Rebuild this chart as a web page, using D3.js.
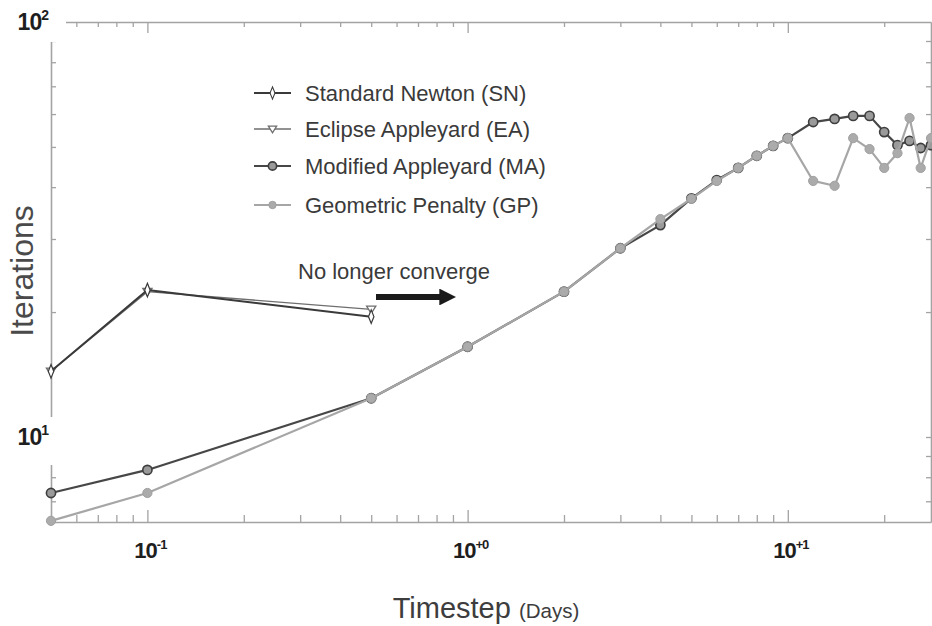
<!DOCTYPE html>
<html>
<head>
<meta charset="utf-8">
<script src="https://cdn.jsdelivr.net/npm/d3@7/dist/d3.min.js"></script>
<style>
  html, body { margin: 0; padding: 0; background: #fff; }
  svg { display: block; font-family: "Liberation Sans", Arial, sans-serif; }
</style>
</head>
<body>
<svg id="chart" width="932" height="626"></svg>
<script>
// Timestep (days) and average Newton iterations for each nonlinear solver
const timestepsSN = [0.05, 0.1, 0.5];
const itersSN     = [14.4, 22.6, 19.5];

const timestepsEA = [0.05, 0.1, 0.5];
const itersEA     = [14.4, 22.4, 20.3];

const timestepsMA = [0.05, 0.1, 0.5, 1, 2, 3, 4, 5, 6, 7, 8, 9, 10, 12, 14, 16, 18, 20, 22, 24, 26, 28];
const itersMA     = [7.33, 8.33, 12.4, 16.5, 22.4, 28.5, 32.4, 37.6, 41.6, 44.5, 47.6, 50.3, 52.5, 57.4, 58.4, 59.4, 59.4, 54.3, 50.5, 51.7, 49.7, 50.5];

const timestepsGP = [0.05, 0.1, 0.5, 1, 2, 3, 4, 5, 6, 7, 8, 9, 10, 12, 14, 16, 18, 20, 22, 24, 26, 28];
const itersGP     = [6.28, 7.33, 12.4, 16.5, 22.4, 28.5, 33.5, 37.5, 41.4, 44.5, 47.6, 50.3, 52.5, 41.4, 40.3, 52.5, 49.4, 44.5, 48.3, 58.7, 44.5, 52.5];

const seriesNames = ["Standard Newton (SN)", "Eclipse Appleyard (EA)", "Modified Appleyard (MA)", "Geometric Penalty (GP)"];

const xMajorTicks = [0.1, 1, 10];
const xMajorExponents = ["-1", "+0", "+1"];
const yMajorTicks = [10, 100];
const yMajorExponents = ["1", "2"];

const xDomain = [0.05, 28];
const yDomain = [6.24, 100];

const annotationText = "No longer converge";
const xTitle = "Timestep";
const xTitleUnit = "(Days)";
const yTitle = "Iterations";

// ---- layout ----
const svg = d3.select("#chart");
const plotLeft = 51, plotRight = 931, plotTop = 22, plotBottom = 522;

const x = d3.scaleLog().domain(xDomain).range([plotLeft, plotRight]);
const y = d3.scaleLog().domain(yDomain).range([plotBottom, plotTop]);

const axisColor = "#a3a3a3";

// ---- frame and ticks ----
const frame = svg.append("g");
const xTicks = x.ticks().filter(t => t > xDomain[0] * 1.001 && t < xDomain[1]);
const yTicks = y.ticks().filter(t => t > yDomain[0] && t < yDomain[1] * 0.999);
const isMajor = v => Math.abs(Math.log10(v) - Math.round(Math.log10(v))) < 1e-9;

frame.append("g")
  .attr("transform", `translate(0,${plotBottom})`)
  .call(d3.axisBottom(x).tickValues(xTicks).tickFormat("").tickSizeOuter(0)
    .tickSizeInner(-7))
  .call(g => g.selectAll(".tick line").filter(d => isMajor(d)).attr("y2", -12));
frame.append("g")
  .attr("transform", `translate(0,${plotTop})`)
  .call(d3.axisTop(x).tickValues(xTicks).tickFormat("").tickSizeOuter(0)
    .tickSizeInner(-5))
  .call(g => g.selectAll(".tick line").filter(d => isMajor(d)).attr("y2", 11));
frame.append("g")
  .attr("transform", `translate(${plotLeft},0)`)
  .call(d3.axisLeft(y).tickValues(yTicks).tickFormat("").tickSizeOuter(0)
    .tickSizeInner(-5));
frame.append("g")
  .attr("transform", `translate(${plotRight},0)`)
  .call(d3.axisRight(y).tickValues(yTicks).tickFormat("").tickSizeOuter(0)
    .tickSizeInner(-5));
frame.selectAll("path.domain").attr("stroke", axisColor).attr("stroke-width", 1.6);
frame.selectAll(".tick line").attr("stroke", axisColor).attr("stroke-width", 1.3);

// ---- tick labels (with white backing boxes over the frame) ----
const tickFont = 22, supFont = 13;
yMajorTicks.forEach((v, i) => {
  const cy = y(v);
  svg.append("rect")
    .attr("x", 6).attr("y", cy - (i === 1 ? 18 : 20))
    .attr("width", i === 1 ? 60 : 50).attr("height", i === 1 ? 38 : 48)
    .attr("fill", "#fff");
  const t = svg.append("text")
    .attr("x", 48).attr("y", cy + 8)
    .attr("text-anchor", "end")
    .attr("font-weight", "bold").attr("font-size", 23).attr("fill", "#1e1e1e")
    .attr("letter-spacing", -1);
  t.append("tspan").text("10");
  t.append("tspan").attr("font-size", 14).attr("dy", -10).text(yMajorExponents[i]);
});

xMajorTicks.forEach((v, i) => {
  const t = svg.append("text")
    .attr("x", x(v) + 3).attr("y", plotBottom + 36)
    .attr("text-anchor", "middle")
    .attr("font-weight", "bold").attr("font-size", tickFont).attr("fill", "#1e1e1e")
    .attr("letter-spacing", -1);
  t.append("tspan").text("10");
  t.append("tspan").attr("font-size", supFont).attr("dy", -9).text(xMajorExponents[i]);
});

// ---- axis titles ----
const xt = svg.append("text")
  .attr("x", 486).attr("y", 618)
  .attr("text-anchor", "middle").attr("fill", "#3d3d3d");
xt.append("tspan").attr("font-size", 29).text(xTitle + " ");
xt.append("tspan").attr("font-size", 20.5).text(xTitleUnit);

svg.append("text")
  .attr("transform", `translate(33,${(plotTop + plotBottom) / 2 - 1}) rotate(-90)`)
  .attr("text-anchor", "middle").attr("font-size", 32).attr("fill", "#4a4a4a")
  .text(yTitle);

// ---- series ----
const plot = svg.append("g");
const line = d3.line().x(d => x(d[0])).y(d => y(d[1]));
const pairs = (xs, ys) => xs.map((v, i) => [v, ys[i]]);

const diamond = d3.symbol().type(d3.symbolDiamond).size(40);
const triDown = s => `M${-s},${-s * 0.7}L${s},${-s * 0.7}L0,${s * 0.9}Z`;

const styles = [
  { data: pairs(timestepsSN, itersSN), stroke: "#3a3a3a", width: 2.0, marker: "diamond", mstroke: "#3a3a3a", mfill: "#fff" },
  { data: pairs(timestepsEA, itersEA), stroke: "#6e6e6e", width: 1.4, marker: "triangle", mstroke: "#6e6e6e", mfill: "#fff" },
  { data: pairs(timestepsMA, itersMA), stroke: "#474747", width: 2.2, marker: "ring", mstroke: "#3e3e3e", mfill: "#9a9a9a" },
  { data: pairs(timestepsGP, itersGP), stroke: "#a6a6a6", width: 2.2, marker: "dot", mstroke: "#a0a0a0", mfill: "#ababab" }
];

function drawMarker(g, st, px, py, scale = 1) {
  if (st.marker === "diamond") {
    g.append("path").attr("d", diamond).attr("transform", `translate(${px},${py}) scale(${0.8 * scale},${1.15 * scale})`)
      .attr("fill", st.mfill).attr("stroke", st.mstroke).attr("stroke-width", 1.4);
  } else if (st.marker === "triangle") {
    g.append("path").attr("d", triDown(4.6 * scale)).attr("transform", `translate(${px},${py})`)
      .attr("fill", st.mfill).attr("stroke", st.mstroke).attr("stroke-width", 1.3);
  } else if (st.marker === "ring") {
    g.append("circle").attr("cx", px).attr("cy", py).attr("r", 4.6 * scale)
      .attr("fill", st.mfill).attr("stroke", st.mstroke).attr("stroke-width", 1.6);
  } else {
    g.append("circle").attr("cx", px).attr("cy", py).attr("r", 4.6 * scale)
      .attr("fill", st.mfill).attr("stroke", st.mstroke).attr("stroke-width", 1);
  }
}

// draw order: MA under GP, SN/EA on top
[2, 3, 1, 0].forEach(k => {
  const st = styles[k];
  const g = plot.append("g");
  g.append("path").datum(st.data).attr("d", line)
    .attr("fill", "none").attr("stroke", st.stroke).attr("stroke-width", st.width)
    .attr("stroke-linejoin", "round");
  st.data.forEach(d => drawMarker(g, st, x(d[0]), y(d[1])));
});

// ---- legend ----
const legend = svg.append("g");
const legendRowsY = [93, 129, 166, 205];
seriesNames.forEach((name, i) => {
  const st = styles[i];
  const ly = legendRowsY[i];
  legend.append("line").attr("x1", 254).attr("x2", 291).attr("y1", ly).attr("y2", ly)
    .attr("stroke", st.stroke).attr("stroke-width", st.width);
  drawMarker(legend, st, 272.5, ly, i === 3 ? 0.8 : 0.9);
  legend.append("text").attr("x", 305).attr("y", ly + 8)
    .attr("font-size", 22).attr("fill", "#3a3a3a").text(name);
});

// ---- annotation ----
svg.append("text").attr("x", 298).attr("y", 279)
  .attr("font-size", 22).attr("fill", "#3a3a3a").text(annotationText);

svg.append("defs").append("marker")
  .attr("id", "arrowhead").attr("viewBox", "0 0 10 10")
  .attr("refX", 1).attr("refY", 5)
  .attr("markerWidth", 2.9).attr("markerHeight", 2.8)
  .attr("markerUnits", "strokeWidth").attr("orient", "auto")
  .append("path").attr("d", "M0,0L10,5L0,10Z").attr("fill", "#1a1a1a");
svg.append("line").attr("x1", 376).attr("x2", 441).attr("y1", 297).attr("y2", 297)
  .attr("stroke", "#1a1a1a").attr("stroke-width", 6)
  .attr("marker-end", "url(#arrowhead)");
</script>
</body>
</html>
